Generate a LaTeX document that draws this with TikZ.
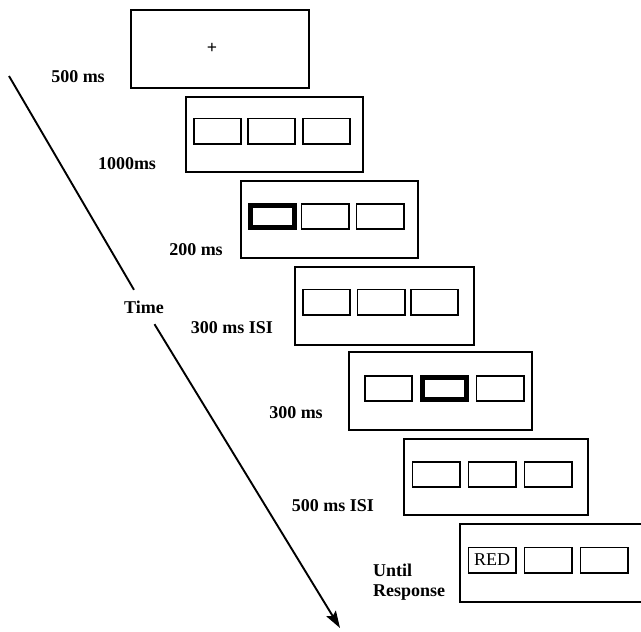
\documentclass[tikz,border=0pt]{standalone}
\usepackage{fontspec}
\setmainfont{Liberation Serif}
\usetikzlibrary{arrows.meta}
\begin{document}
\begin{tikzpicture}[x=1pt,y=-1pt,
  frame/.style={draw, line width=1.8pt, inner sep=0pt},
  cell/.style={draw, line width=1.8pt, minimum width=47.2pt, minimum height=25.2pt, inner sep=0pt},
  cue/.style={draw, line width=5pt, minimum width=44pt, minimum height=22pt, inner sep=0pt},
  lbl/.style={font=\fontsize{18}{20}\selectfont\bfseries, inner sep=0pt},
  timeline/.style={line width=1.9pt}]
\useasboundingbox (0,0) rectangle (641,632);
% frames
\node[frame, minimum width=178.2pt, minimum height=78.2pt] (f1) at (220,49) {};
\node[frame, minimum width=177.2pt, minimum height=75.2pt] (f2) at (274.5,134.5) {};
\node[frame, minimum width=177.2pt, minimum height=77.2pt] (f3) at (329.5,219.5) {};
\node[frame, minimum width=179.2pt, minimum height=78.2pt] (f4) at (384.5,306) {};
\node[frame, minimum width=183.2pt, minimum height=78.2pt] (f5) at (440.5,391) {};
\node[frame, minimum width=184.2pt, minimum height=76.2pt] (f6) at (496,477) {};
\node[frame, minimum width=184.2pt, minimum height=78.2pt] (f7) at (552,563) {};
% fixation
\node[font=\fontsize{18}{18}\selectfont\bfseries, inner sep=0pt] (fix) at (212,48) {+};
% frame 2
\node[cell] (b21) at (217.5,131) {};
\node[cell] (b22) at (271.5,131) {};
\node[cell] (b23) at (326.5,131) {};
% frame 3
\node[cue]  (b31) at (272,216.5) {};
\node[cell] (b32) at (325,216.5) {};
\node[cell] (b33) at (380,216.5) {};
% frame 4
\node[cell] (b41) at (326.5,302) {};
\node[cell] (b42) at (381,302) {};
\node[cell] (b43) at (434.5,302) {};
% frame 5
\node[cell] (b51) at (388.5,388.5) {};
\node[cue]  (b52) at (444.5,388.5) {};
\node[cell] (b53) at (500,388.5) {};
% frame 6
\node[cell] (b61) at (436,474.5) {};
\node[cell] (b62) at (492,474.5) {};
\node[cell] (b63) at (548,474.5) {};
% frame 7
\node[cell, font=\fontsize{18}{20}\selectfont] (b71) at (492,560) {RED};
\node[cell] (b72) at (548,560) {};
\node[cell] (b73) at (604,560) {};
% labels
\node[lbl] (l1) at (78,77) {500 ms};
\node[lbl] (l2) at (127,164) {1000ms};
\node[lbl] (l3) at (196,250) {200 ms};
\node[lbl] (l4) at (232,328) {300 ms ISI};
\node[lbl] (l5) at (296,413) {300 ms};
\node[lbl] (l6) at (333,506) {500 ms ISI};
\node[lbl, anchor=west, align=left] (l7) at (373,582) {Until\\Response};
% time arrow
\coordinate (ts) at (9,76);
\coordinate (te) at (340,628);
\node[lbl, minimum height=34pt, minimum width=44pt] (time) at (144,307) {Time};
\draw[timeline] (ts) -- (time);
\draw[timeline, -{Stealth[length=17pt, width=11pt, inset=3pt]}] (time) -- (te);
\end{tikzpicture}
\end{document}
